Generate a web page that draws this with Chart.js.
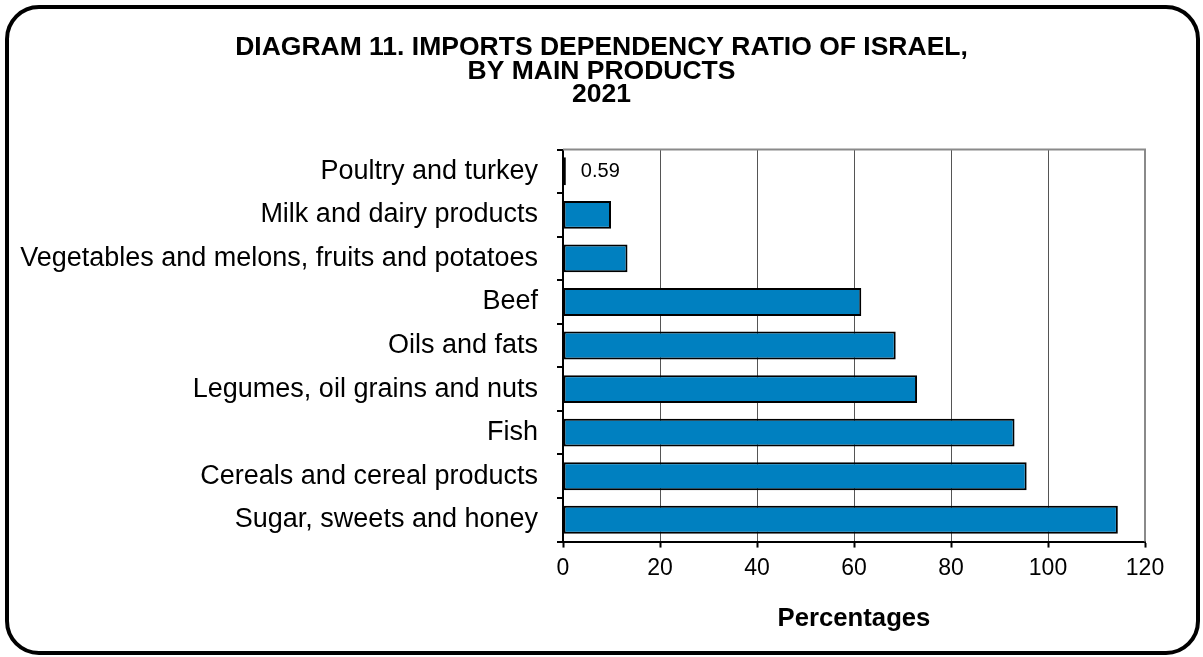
<!DOCTYPE html>
<html>
<head>
<meta charset="utf-8">
<script src="https://cdn.jsdelivr.net/npm/chart.js@4.4.1/dist/chart.umd.min.js"></script>
<style>
  html, body { margin: 0; padding: 0; background: #fff; }
  #wrap { position: relative; width: 1203px; height: 657px; }
  #frame {
    position: absolute; left: 5px; top: 5px; width: 1187px; height: 642px;
    border: 4px solid #000; border-radius: 34px; pointer-events: none;
  }
  canvas { position: absolute; left: 0; top: 0; }
</style>
</head>
<body>
<div id="wrap">
  <canvas id="c" width="1203" height="657"></canvas>
  <div id="frame"></div>
</div>
<script>
const categories = [
  'Poultry and turkey',
  'Milk and dairy products',
  'Vegetables and melons, fruits and potatoes',
  'Beef',
  'Oils and fats',
  'Legumes, oil grains and nuts',
  'Fish',
  'Cereals and cereal products',
  'Sugar, sweets and honey'
];
const ratios = [0.59, 9.9, 13.3, 61.5, 68.6, 73.0, 93.1, 95.6, 114.4];
const labelledItems = [0];
const xTicks = [0, 20, 40, 60, 80, 100, 120];
const titleLines = ['DIAGRAM 11. IMPORTS DEPENDENCY RATIO OF ISRAEL,', 'BY MAIN PRODUCTS', '2021'];
const xAxisTitle = 'Percentages';

const FONT = '"Liberation Sans", Arial, sans-serif';

// Gray frame on the top and right of the plot area
const plotFrame = {
  id: 'plotFrame',
  beforeDatasetsDraw(chart) {
    const { ctx, chartArea: a } = chart;
    ctx.save();
    ctx.strokeStyle = '#8a8a8a';
    ctx.lineWidth = 2;
    ctx.beginPath();
    ctx.moveTo(a.left, a.top);
    ctx.lineTo(a.right, a.top);
    ctx.lineTo(a.right, a.bottom);
    ctx.stroke();
    ctx.restore();
  }
};

// Value label next to selected bars
const valueLabels = {
  id: 'valueLabels',
  afterDatasetsDraw(chart) {
    const { ctx } = chart;
    const meta = chart.getDatasetMeta(0);
    ctx.save();
    ctx.font = '20px ' + FONT;
    ctx.fillStyle = '#000';
    ctx.textAlign = 'left';
    ctx.textBaseline = 'middle';
    labelledItems.forEach(i => {
      const bar = meta.data[i];
      ctx.fillText(String(ratios[i]), bar.x + 15, bar.y);
    });
    ctx.restore();
  }
};

new Chart(document.getElementById('c'), {
  type: 'bar',
  data: {
    labels: categories,
    datasets: [{
      data: ratios,
      backgroundColor: '#0080c0',
      borderColor: '#000',
      borderWidth: 2,
      borderSkipped: false,
      categoryPercentage: 1,
      barPercentage: 0.64
    }]
  },
  options: {
    indexAxis: 'y',
    responsive: false,
    animation: false,
    devicePixelRatio: 1,
    layout: { padding: { left: 0, right: 0, top: 0, bottom: 23 } },
    plugins: {
      legend: { display: false },
      tooltip: { enabled: false },
      title: {
        display: true,
        text: titleLines,
        color: '#000',
        font: { family: FONT, size: 26.5, weight: 'bold', lineHeight: '23.5px' },
        padding: { top: 36, bottom: 43 }
      }
    },
    scales: {
      x: {
        min: 0, max: 120,
        afterBuildTicks(scale) { scale.ticks = xTicks.map(v => ({ value: v })); },
        ticks: {
          color: '#000',
          font: { family: FONT, size: 23 },
          padding: 7,
          maxRotation: 0
        },
        grid: {
          color: '#555',
          lineWidth: 1,
          tickColor: '#000',
          tickWidth: 2,
          tickLength: 6
        },
        border: { color: '#000', width: 2 },
        title: {
          display: true,
          text: xAxisTitle,
          color: '#000',
          font: { family: FONT, size: 25.7, weight: 'bold' },
          padding: { top: 14, bottom: 0 }
        }
      },
      y: {
        afterFit(scale) { scale.width = 563; },
        ticks: {
          color: '#000',
          font: { family: FONT, size: 27 },
          padding: 19,
          autoSkip: false
        },
        grid: {
          offset: true,
          drawOnChartArea: false,
          color: '#000',
          lineWidth: 2,
          tickLength: 6
        },
        border: { color: '#000', width: 2 }
      },
      // empty margin on the right of the plot
      yRight: {
        type: 'category',
        axis: 'y',
        position: 'right',
        afterFit(scale) { scale.width = 58; },
        ticks: { display: false },
        grid: { display: false, drawTicks: false },
        border: { display: false }
      }
    }
  },
  plugins: [plotFrame, valueLabels]
});
</script>
</body>
</html>
